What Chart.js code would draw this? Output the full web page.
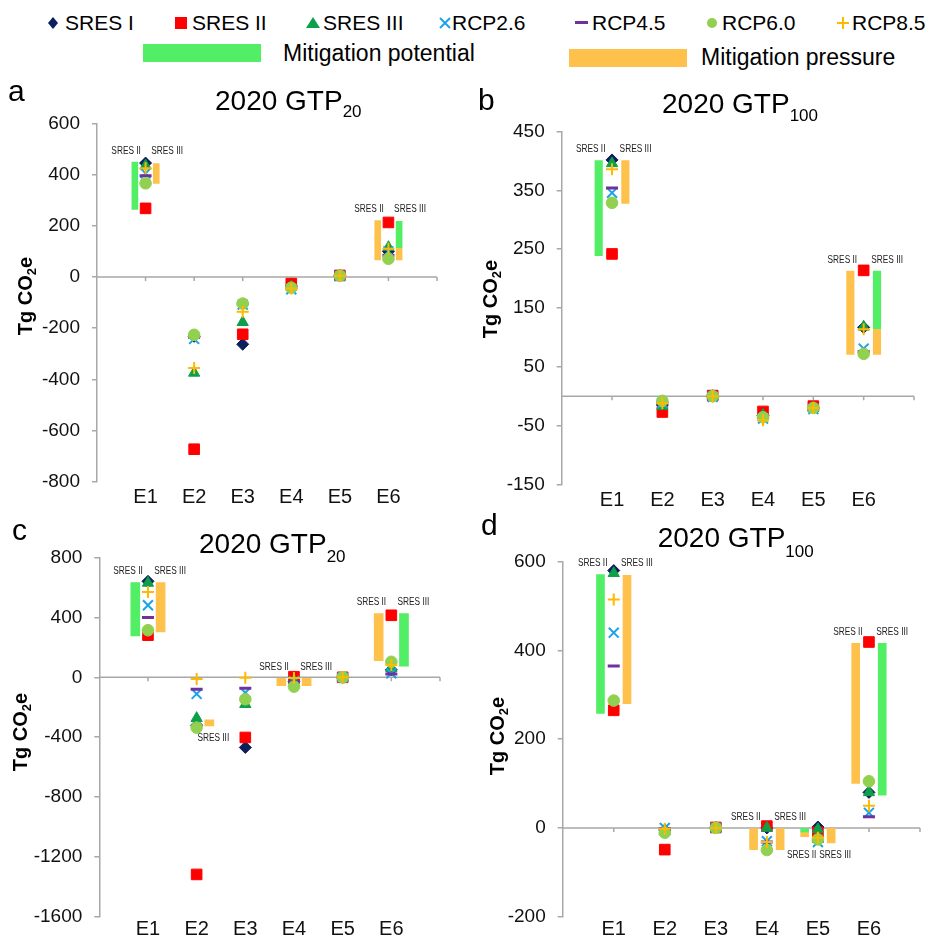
<!DOCTYPE html>
<html><head><meta charset="utf-8">
<script src="https://cdn.jsdelivr.net/npm/chart.js@4.4.0/dist/chart.umd.min.js"></script>
<style>
body{margin:0;width:929px;height:940px;background:#fff;position:relative;overflow:hidden;font-family:"Liberation Sans",Arial,sans-serif;color:#000}
.abs{position:absolute;white-space:nowrap}
canvas{position:absolute}
.leg{font-size:21px;line-height:21px}
.leg2{font-size:23px;line-height:23px}
.title{font-size:28px;line-height:28px}
.sb{font-size:17px;position:relative;line-height:0}
.plab{font-size:30px;line-height:30px}
.ytitle{font-weight:bold;font-size:20px;line-height:20px;transform:translate(-50%,-50%) rotate(-90deg)}
.ytitle sub{font-size:13px;line-height:0;vertical-align:-4px}
</style></head><body>

<!-- legend row 1 -->
<svg class="abs" style="left:48px;top:16.5px" width="10" height="12"><polygon points="5,0 10,6 5,12 0,6" fill="#0b1f5c"/></svg>
<div class="abs leg" style="left:65px;top:11.7px">SRES I</div>
<svg class="abs" style="left:175px;top:16.5px" width="12" height="12"><rect x="0" y="0" width="12" height="12" fill="#ff0000"/></svg>
<div class="abs leg" style="left:192px;top:11.7px">SRES II</div>
<svg class="abs" style="left:306px;top:17px" width="14" height="11"><polygon points="7,0 14,11 0,11" fill="#0e9f4a"/></svg>
<div class="abs leg" style="left:323px;top:11.7px">SRES III</div>
<svg class="abs" style="left:439px;top:16.5px" width="12" height="12"><path d="M1,1 L11,11 M11,1 L1,11" stroke="#1aa3e8" stroke-width="2"/></svg>
<div class="abs leg" style="left:452px;top:11.7px">RCP2.6</div>
<svg class="abs" style="left:575px;top:21px" width="13" height="3"><rect x="0" y="0" width="13" height="3" fill="#7030a0"/></svg>
<div class="abs leg" style="left:592px;top:11.7px">RCP4.5</div>
<svg class="abs" style="left:707px;top:17.5px" width="10" height="10"><circle cx="5" cy="5" r="5" fill="#92d050"/></svg>
<div class="abs leg" style="left:722px;top:11.7px">RCP6.0</div>
<svg class="abs" style="left:837px;top:16.5px" width="12" height="12"><path d="M6,0 L6,12 M0,6 L12,6" stroke="#ffb900" stroke-width="2"/></svg>
<div class="abs leg" style="left:852px;top:11.7px">RCP8.5</div>
<!-- legend row 2 -->
<div class="abs" style="left:143px;top:44px;width:118px;height:18px;background:#52ee66"></div>
<div class="abs leg2" style="left:283px;top:41.7px">Mitigation potential</div>
<div class="abs" style="left:569px;top:49px;width:118px;height:18px;background:#fec24c"></div>
<div class="abs leg2" style="left:701px;top:45.7px">Mitigation pressure</div>

<canvas id="ca" width="465" height="415" style="left:0;top:100px"></canvas>
<canvas id="cb" width="464" height="415" style="left:465px;top:100px"></canvas>
<canvas id="cc" width="465" height="420" style="left:0;top:520px"></canvas>
<canvas id="cd" width="464" height="420" style="left:465px;top:520px"></canvas>

<div class="abs plab" style="left:8px;top:76px">a</div>
<div class="abs plab" style="left:478px;top:85px">b</div>
<div class="abs plab" style="left:12px;top:515px">c</div>
<div class="abs plab" style="left:481px;top:510px">d</div>

<div class="abs title" style="left:215px;top:87px">2020 GTP<span class="sb" style="top:7px">20</span></div>
<div class="abs title" style="left:662px;top:89.6px">2020 GTP<span class="sb" style="top:8px">100</span></div>
<div class="abs title" style="left:199px;top:530.3px">2020 GTP<span class="sb" style="top:9px">20</span></div>
<div class="abs title" style="left:657.7px;top:524.3px">2020 GTP<span class="sb" style="top:10px">100</span></div>

<div class="abs ytitle" style="left:25px;top:296px">Tg CO<sub>2</sub>e</div>
<div class="abs ytitle" style="left:490px;top:299px">Tg CO<sub>2</sub>e</div>
<div class="abs ytitle" style="left:20px;top:732px">Tg CO<sub>2</sub>e</div>
<div class="abs ytitle" style="left:497px;top:736px">Tg CO<sub>2</sub>e</div>

<script>
// ---------- DATA ----------
const categories = ['E1', 'E2', 'E3', 'E4', 'E5', 'E6'];
const seriesNames = ['SRES I', 'SRES II', 'SRES III', 'RCP2.6', 'RCP4.5', 'RCP6.0', 'RCP8.5'];

// Panel a: 2020 GTP20
const aYTicks   = [-800, -600, -400, -200, 0, 200, 400, 600];
const aSRES_I   = [445, -232, -263, -35, 5, 100];
const aSRES_II  = [268, -673, -224, -26, 6, 213];
const aSRES_III = [435, -375, -177, -38, 5, 116];
const aRCP26    = [405, -242, -108, -48, 4, 100];
const aRCP45    = [395, -236, -105, -40, 5, 85];
const aRCP60    = [366, -226, -104, -42, 5, 71];
const aRCP85    = [425, -356, -136, -45, 5, 110];
// bars: [category number, side (-1 = SRES II bar, +1 = SRES III bar), low, high]
const aPotential = [[1, -1, 264, 449], [6, 1, 114, 217]];
const aPressure  = [[1, 1, 365, 443], [6, -1, 67, 220], [6, 1, 67, 114]];
// labels: [category number, side, where]
const aLabels = [[1, -1, 'above'], [1, 1, 'above'], [6, -1, 'above'], [6, 1, 'above']];

// Panel b: 2020 GTP100
const bYTicks   = [-150, -50, 50, 150, 250, 350, 450];
const bSRES_I   = [402, -15, 0, -33, -20, 117];
const bSRES_II  = [242, -27, 1, -26, -17, 214];
const bSRES_III = [396, -17, 0, -32, -20, 118];
const bRCP26    = [346, -12, -1, -38, -22, 81];
const bRCP45    = [354, -11, 0, -36, -21, 76];
const bRCP60    = [329, -8, 0, -36, -20, 72];
const bRCP85    = [386, -12, 0, -41, -20, 114];
const bPotential = [[1, -1, 239, 401], [6, 1, 115, 213]];
const bPressure  = [[1, 1, 328, 401], [6, -1, 71, 213], [6, 1, 71, 115]];
const bLabels = [[1, -1, 'above'], [1, 1, 'above'], [6, -1, 'above'], [6, 1, 'above']];

// Panel c: 2020 GTP20
const cYTicks   = [-1600, -1200, -800, -400, 0, 400, 800];
const cSRES_I   = [642, -320, -469, -30, 0, 50];
const cSRES_II  = [282, -1318, -402, 4, 0, 415];
const cSRES_III = [631, -273, -180, -20, -3, 60];
const cRCP26    = [482, -111, -103, -25, 0, 27];
const cRCP45    = [400, -80, -73, -30, 0, 22];
const cRCP60    = [315, -336, -147, -62, 0, 104];
const cRCP85    = [571, -11, -2, -5, 0, 82];
const cPotential = [[1, -1, 277, 633], [6, 1, 75, 427]];
const cPressure  = [[1, 1, 304, 633], [2, 1, -325, -285], [4, -1, -56, -7], [4, 1, -56, -7], [6, -1, 111, 427]];
const cLabels = [[1, -1, 'above'], [1, 1, 'above'], [2, 1, 'below'], [4, -1, 'above'], [4, 1, 'above'], [6, -1, 'above'], [6, 1, 'above']];

// Panel d: 2020 GTP100
const dYTicks   = [-200, 0, 200, 400, 600];
const dSRES_I   = [580, -5, 0, 0, 2, 80];
const dSRES_II  = [265, -49, 1, 4, -10, 419];
const dSRES_III = [574, -8, 0, 0, -3, 80];
const dRCP26    = [440, 0, 0, -30, -32, 34];
const dRCP45    = [365, -2, 0, -32, -30, 25];
const dRCP60    = [287, -11, 0, -50, -26, 105];
const dRCP85    = [515, -2, 0, -32, -22, 50];
const dPotential = [[1, -1, 258, 571], [5, -1, -9, 0], [6, 1, 74, 416]];
const dPressure  = [[1, 1, 280, 569], [4, -1, -49, 0], [4, 1, -49, 0], [5, -1, -20, -9], [5, 1, -34, -1], [6, -1, 100, 416]];
const dLabels = [[1, -1, 'above'], [1, 1, 'above'], [4, -1, 'above'], [4, 1, 'above'], [5, -1, 'below'], [5, 1, 'below'], [6, -1, 'above'], [6, 1, 'above']];

// ---------- STYLE ----------
const FONT = '"Liberation Sans", Arial, sans-serif';
const GRAY = '#a8a8a8';
const GREEN = '#52ee66';
const ORANGE = '#fec24c';
const markerStyles = [
  {ps: 'rectRot',  r: 6,   bg: '#0b1f5c', bc: '#0b1f5c', bw: 1},
  {ps: 'rect',     r: 7.5, bg: '#ff0000', bc: '#ff0000', bw: 1},
  {ps: 'triangle', r: 6.5, bg: '#0e9f4a', bc: '#0e9f4a', bw: 1},
  {ps: 'crossRot', r: 7,   bg: '#1aa3e8', bc: '#1aa3e8', bw: 2},
  {ps: 'line',     r: 6,   bg: '#7030a0', bc: '#7030a0', bw: 3},
  {ps: 'circle',   r: 5.8, bg: '#92d050', bc: '#92d050', bw: 1},
  {ps: 'cross',    r: 6,   bg: '#ffb900', bc: '#ffb900', bw: 2},
];

const panels = [
  {id: 'ca', series: [aSRES_I, aSRES_II, aSRES_III, aRCP26, aRCP45, aRCP60, aRCP85], yTicks: aYTicks,
   potential: aPotential, pressure: aPressure, labels: aLabels,
   off: 0.22, th: 6, padT: 21.7, padR: 28, yW: 97, xH: 33.3, xPad: 4},
  {id: 'cb', series: [bSRES_I, bSRES_II, bSRES_III, bRCP26, bRCP45, bRCP60, bRCP85], yTicks: bYTicks,
   potential: bPotential, pressure: bPressure, labels: bLabels,
   off: 0.265, th: 7.5, padT: 31.7, padR: 15, yW: 96.7, xH: 30.7, xPad: 4},
  {id: 'cc', series: [cSRES_I, cSRES_II, cSRES_III, cRCP26, cRCP45, cRCP60, cRCP85], yTicks: cYTicks,
   potential: cPotential, pressure: cPressure, labels: cLabels,
   off: 0.26, th: 9, padT: 37.7, padR: 25, yW: 99.3, xH: 22.3, xPad: 1},
  {id: 'cd', series: [dSRES_I, dSRES_II, dSRES_III, dRCP26, dRCP45, dRCP60, dRCP85], yTicks: dYTicks,
   potential: dPotential, pressure: dPressure, labels: dLabels,
   off: 0.26, th: 8, padT: 41.7, padR: 8, yW: 97.7, xH: 23.3, xPad: 1},
];

function build(p) {
  const datasets = [];
  p.series.forEach((vals, i) => {
    const st = markerStyles[i];
    datasets.push({
      type: 'scatter', label: seriesNames[i],
      data: vals.map((v, j) => ({x: j + 1, y: v})),
      pointStyle: st.ps, pointRadius: st.r, pointHoverRadius: st.r,
      pointBackgroundColor: st.bg, pointBorderColor: st.bc, pointBorderWidth: st.bw,
      order: 10 - i
    });
  });
  datasets.push({
    type: 'bar', label: 'Mitigation potential',
    data: p.potential.map(b => ({x: b[0] + b[1] * p.off, y: [b[2], b[3]]})),
    backgroundColor: GREEN, borderWidth: 0, barThickness: p.th, grouped: false, order: 20
  });
  datasets.push({
    type: 'bar', label: 'Mitigation pressure',
    data: p.pressure.map(b => ({x: b[0] + b[1] * p.off, y: [b[2], b[3]]})),
    backgroundColor: ORANGE, borderWidth: 0, barThickness: p.th, grouped: false, order: 21
  });

  const allBars = p.potential.concat(p.pressure);

  const decor = {
    id: 'decor' + p.id,
    beforeDatasetsDraw(chart) {
      const {ctx, chartArea, scales} = chart;
      const y0 = scales.y.getPixelForValue(0);
      ctx.save();
      ctx.strokeStyle = GRAY;
      ctx.lineWidth = 1.5;
      ctx.beginPath();
      ctx.moveTo(chartArea.left, y0);
      ctx.lineTo(chartArea.right, y0);
      for (let k = 1; k <= 7; k++) {
        const x = scales.x.getPixelForValue(k);
        ctx.moveTo(x, y0);
        ctx.lineTo(x, y0 + 4);
      }
      ctx.stroke();
      ctx.restore();
    },
    afterDatasetsDraw(chart) {
      const {ctx, scales} = chart;
      ctx.save();
      ctx.fillStyle = '#222';
      ctx.font = '10px ' + FONT;
      ctx.textBaseline = 'middle';
      p.labels.forEach(([cat, side, where]) => {
        const catBars = allBars.filter(b => b[0] === cat);
        const xc = scales.x.getPixelForValue(cat + side * p.off);
        const text = side < 0 ? 'SRES II' : 'SRES III';
        let x, y, align;
        if (where === 'above') {
          const top = Math.min(...catBars.map(b => scales.y.getPixelForValue(b[3])));
          y = top - 11;
          if (side < 0) { x = xc + p.th / 2 + 3; align = 'right'; }
          else { x = xc - p.th / 2 - 2; align = 'left'; }
        } else {
          const bot = Math.max(...catBars.map(b => scales.y.getPixelForValue(b[2])));
          y = bot + 12;
          x = side < 0 ? xc - 3 : xc + 4; align = 'center';
        }
        ctx.save();
        ctx.translate(x, y);
        ctx.scale(0.83, 1);
        ctx.textAlign = align;
        ctx.fillText(text, 0, 0);
        ctx.restore();
      });
      ctx.restore();
    }
  };

  const yT = p.yTicks;
  new Chart(document.getElementById(p.id), {
    type: 'bar',
    data: {datasets},
    options: {
      responsive: false,
      animation: false,
      devicePixelRatio: 1,
      layout: {padding: {left: 0, top: p.padT, right: p.padR, bottom: 0}},
      plugins: {legend: {display: false}, tooltip: {enabled: false}},
      scales: {
        x: {
          type: 'linear', min: 0, max: 7, offset: false,
          grid: {display: false, drawTicks: false},
          border: {display: false},
          ticks: {
            stepSize: 1, autoSkip: false, maxRotation: 0, padding: p.xPad,
            font: {size: 20, family: FONT}, color: '#111',
            callback: v => (v >= 1 && v <= 6) ? categories[Math.round(v) - 1] : ''
          },
          afterFit: s => { s.height = p.xH; }
        },
        y: {
          type: 'linear', min: yT[0], max: yT[yT.length - 1],
          grid: {drawOnChartArea: false, drawTicks: true, tickLength: 5, tickColor: GRAY, color: GRAY, lineWidth: 1.5},
          border: {display: true, color: GRAY, width: 1.5},
          ticks: {stepSize: yT[1] - yT[0], autoSkip: false, padding: 12, font: {size: 19, family: FONT}, color: '#111',
                  callback: v => String(v)},
          afterFit: s => { s.width = p.yW; }
        }
      }
    },
    plugins: [decor]
  });
}
panels.forEach(build);
</script>
</body></html>
